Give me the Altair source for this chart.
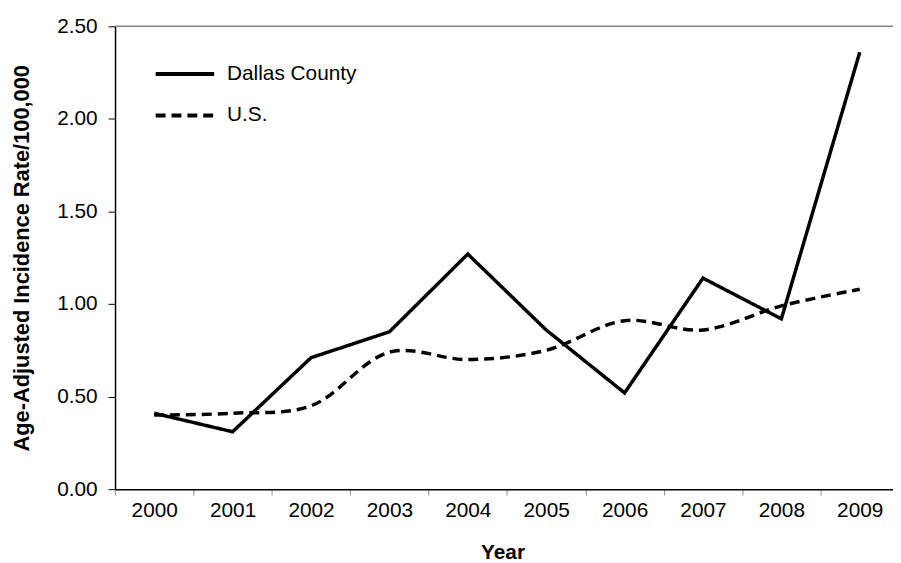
import altair as alt
import pandas as pd

years = [2000, 2001, 2002, 2003, 2004, 2005, 2006, 2007, 2008, 2009]
dallas = [0.41, 0.31, 0.71, 0.85, 1.27, 0.86, 0.52, 1.14, 0.92, 2.36]
us = [0.40, 0.41, 0.45, 0.74, 0.70, 0.75, 0.91, 0.86, 0.99, 1.08]
series = ["Dallas County", "U.S."]
y_ticks = [0, 0.5, 1.0, 1.5, 2.0, 2.5]

df = pd.DataFrame({
    "Year": years * 2,
    "Rate": dallas + us,
    "Series": [series[0]] * len(years) + [series[1]] * len(years),
})
top_df = pd.DataFrame({"top": [y_ticks[-1]]})

FONT = "Liberation Sans"
W = 785          # visible plot width (the plot runs a little past the right edge)
BAND = 79.1      # pixel width of one year category
x_domain = [years[0] - 0.5, years[0] - 0.5 + W / BAND]

x_enc = alt.X(
    "Year:Q",
    scale=alt.Scale(domain=x_domain, nice=False, zero=False),
    axis=alt.Axis(
        title="Year", values=years, format="d", labelAngle=0, grid=False,
        tickOffset=-BAND / 2, labelOffset=BAND / 2, labelFlush=False, labelOverlap=False,
        tickSize=6, tickColor="#a0a0a0", tickWidth=1.2,
        domainColor="black", domainWidth=1.5, labelPadding=5,
        labelFontSize=21, labelColor="black", labelFont=FONT,
        titleFontSize=21, titleFontWeight="bold", titleColor="black", titleFont=FONT,
        titlePadding=21, titleX=391,
    ),
)
y_enc = alt.Y(
    "Rate:Q",
    scale=alt.Scale(domain=[0, 2.5], nice=False),
    axis=alt.Axis(
        values=y_ticks, format=".2f", title="Age-Adjusted Incidence Rate/100,000",
        grid=False, domainColor="black", domainWidth=1.5, tickColor="black",
        tickSize=7, labelPadding=11, labelFontSize=21, labelColor="black", labelFont=FONT,
        titleFontSize=22, titleFontWeight="bold", titleColor="black", titleFont=FONT,
        titlePadding=23,
    ),
)
dash_enc = alt.StrokeDash(
    "Series:N",
    scale=alt.Scale(domain=series, range=[[1, 0], [10, 6]]),
    legend=alt.Legend(
        title=None, orient="none", legendX=39, legendY=16.5, symbolType="stroke",
        symbolSize=3481, symbolStrokeWidth=4, symbolStrokeColor="black",
        labelFontSize=21, labelFont=FONT, labelColor="black", labelOffset=11,
        rowPadding=-17, padding=0,
    ),
)

base = alt.Chart(df)
dallas_line = base.transform_filter(alt.datum.Series == series[0]).mark_line(
    color="black", strokeWidth=3.5
).encode(x=x_enc, y=y_enc, strokeDash=dash_enc)
us_line = base.transform_filter(alt.datum.Series == series[1]).mark_line(
    color="black", strokeWidth=3.5, interpolate="catmull-rom"
).encode(x=x_enc, y=y_enc, strokeDash=dash_enc)
top_rule = alt.Chart(top_df).mark_rule(color="#888888", strokeWidth=1.5).encode(y="top:Q")

chart = alt.layer(top_rule, dallas_line, us_line).properties(
    width=W, height=467,
    autosize=alt.AutoSizeParams(type="none"),
    padding={"left": 108, "top": 16, "right": 0, "bottom": 72},
).configure_view(stroke=None).configure(font=FONT, background="white")

chart.save("out.html", embed_options={"renderer": "svg", "actions": False})
